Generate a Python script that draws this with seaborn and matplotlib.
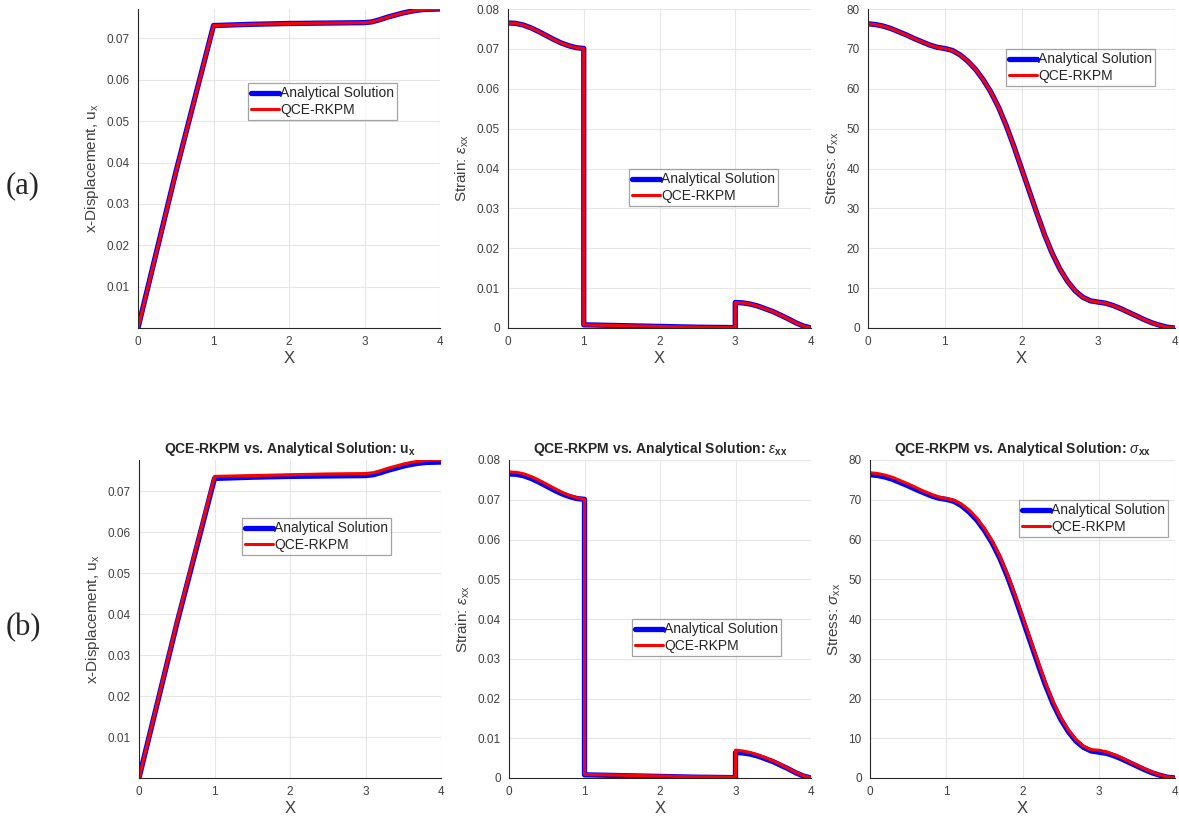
import matplotlib
matplotlib.use("Agg")
import matplotlib.pyplot as plt
import seaborn as sns

# ---- data ----
# displacement u_x
x_disp = [0.0, 0.5, 1.0, 1.5, 2.0, 2.5, 3.0, 3.1, 3.2, 3.3, 3.4, 3.5, 3.6, 3.7, 3.8, 3.9, 4.0]
ux_exact = [0.0, 0.0376, 0.0731, 0.0734, 0.0736, 0.0737, 0.0738, 0.0740, 0.0745, 0.0751,
            0.0756, 0.0761, 0.0765, 0.0768, 0.0770, 0.07705, 0.0771]
ux_qce_b = [0.0, 0.0379, 0.0736, 0.0738, 0.0740, 0.0742, 0.0743, 0.0745, 0.0750, 0.0756,
            0.0761, 0.0766, 0.0770, 0.0773, 0.0775, 0.0776, 0.0776]

# strain eps_xx (jumps at x=1 and x=3)
x_eps = [0.0, 0.1, 0.2, 0.3, 0.4, 0.5, 0.6, 0.7, 0.8, 0.9, 1.0,
         1.0, 1.5, 2.0, 2.5, 3.0,
         3.0, 3.1, 3.2, 3.3, 3.4, 3.5, 3.6, 3.7, 3.8, 3.9, 4.0]
eps_exact = [0.0765, 0.0764, 0.0760, 0.0753, 0.0744, 0.0734, 0.0724, 0.0715, 0.0708, 0.0703, 0.0701,
             0.0008, 0.0006, 0.0004, 0.0002, 0.0001,
             0.0064, 0.0063, 0.0060, 0.0055, 0.0048, 0.0041, 0.0032, 0.0023, 0.0013, 0.0005, 0.0]
eps_qce_b = [0.0770, 0.0769, 0.0765, 0.0758, 0.0749, 0.0739, 0.0729, 0.0719, 0.0711, 0.0705, 0.0701,
             0.0009, 0.0007, 0.0005, 0.0003, 0.0002,
             0.0070, 0.0068, 0.0064, 0.0058, 0.0051, 0.0043, 0.0034, 0.0024, 0.0014, 0.0006, 0.0]

# stress sigma_xx
x_sig = [0.0, 0.1, 0.2, 0.3, 0.4, 0.5, 0.6, 0.7, 0.8, 0.9, 1.0,
         1.1, 1.2, 1.3, 1.4, 1.5, 1.6, 1.7, 1.8, 1.9, 2.0,
         2.1, 2.2, 2.3, 2.4, 2.5, 2.6, 2.7, 2.8, 2.9, 3.0,
         3.1, 3.2, 3.3, 3.4, 3.5, 3.6, 3.7, 3.8, 3.9, 4.0]
sig_exact = [76.3, 76.1, 75.7, 75.1, 74.3, 73.5, 72.6, 71.8, 71.0, 70.4, 70.1,
             69.6, 68.5, 66.9, 64.9, 62.3, 59.2, 55.4, 50.8, 45.6, 40.0,
             34.4, 28.8, 23.4, 18.7, 14.8, 11.7, 9.3, 7.7, 6.8, 6.5,
             6.2, 5.6, 4.8, 3.9, 3.0, 2.1, 1.3, 0.7, 0.2, 0.0]
sig_qce_b = [76.8, 76.6, 76.2, 75.6, 74.8, 74.0, 73.1, 72.2, 71.4, 70.7, 70.3,
             69.9, 68.9, 67.4, 65.4, 62.8, 59.7, 55.9, 51.3, 46.1, 40.6,
             35.0, 29.4, 24.0, 19.2, 15.2, 12.1, 9.7, 8.0, 7.1, 7.0,
             6.6, 5.9, 5.1, 4.1, 3.2, 2.3, 1.5, 0.8, 0.3, 0.0]

sns.set_theme(style="white")
plt.rcParams["font.family"] = ["Liberation Sans", "DejaVu Sans"]
plt.rcParams["mathtext.fontset"] = "custom"
plt.rcParams["mathtext.rm"] = "Liberation Sans"
plt.rcParams["mathtext.it"] = "Liberation Sans:italic"
plt.rcParams["mathtext.bf"] = "Liberation Sans:bold"

fig = plt.figure(figsize=(11.79, 8.23), dpi=100)
W, H = 1179.0, 823.0

# axes boxes in pixels: left, top, right, bottom
boxes = [
    [(138, 9, 440, 328), (508, 9, 811, 328), (868, 9, 1175, 328)],
    [(139, 460, 441, 778), (509, 460, 811, 778), (870, 460, 1175, 778)],
]
legend_pos = [
    [(248, 83), (629, 169), (1006, 49)],
    [(242, 518), (632, 619), (1019, 500)],
]
ylabels = ["x-Displacement, u$_{\\rm x}$", "Strain: $\\epsilon_{\\rm xx}$", "Stress: $\\sigma_{\\rm xx}$"]
titles = [None, None, None,
          "QCE-RKPM vs. Analytical Solution: u$_{\\mathbf{x}}$",
          "QCE-RKPM vs. Analytical Solution: $\\epsilon_{\\mathbf{xx}}$",
          "QCE-RKPM vs. Analytical Solution: $\\sigma_{\\mathbf{xx}}$"]

series = [
    [(x_disp, ux_exact, ux_exact), (x_eps, eps_exact, eps_exact), (x_sig, sig_exact, sig_exact)],
    [(x_disp, ux_exact, ux_qce_b), (x_eps, eps_exact, eps_qce_b), (x_sig, sig_exact, sig_qce_b)],
]
yticks = [[0.01, 0.02, 0.03, 0.04, 0.05, 0.06, 0.07],
          [0, 0.01, 0.02, 0.03, 0.04, 0.05, 0.06, 0.07, 0.08],
          [0, 10, 20, 30, 40, 50, 60, 70, 80]]
ytops = [None, 0.08, 80]

axis_col = "#262626"
for r in range(2):
    for c in range(3):
        l, t, rr, b = boxes[r][c]
        ax = fig.add_axes([l / W, 1 - b / H, (rr - l) / W, (b - t) / H])
        xs, y_an, y_qce = series[r][c]
        sns.lineplot(x=xs, y=y_an, ax=ax, color="#0000ff", lw=3.8, estimator=None,
                     sort=False, label="Analytical Solution")
        sns.lineplot(x=xs, y=y_qce, ax=ax, color="#ff0000", lw=2.2, estimator=None,
                     sort=False, label="QCE-RKPM")
        ax.set_xlim(0, 4)
        top = ytops[c] if ytops[c] is not None else max(max(y_an), max(y_qce))
        ax.set_ylim(0, top)
        ax.set_xticks([0, 1, 2, 3, 4])
        ax.set_yticks(yticks[c])
        ax.set_yticklabels([f"{v:g}" for v in yticks[c]])
        ax.grid(True, color="#e6e6e6", lw=0.8)
        ax.set_axisbelow(True)
        for s in ["top", "right"]:
            ax.spines[s].set_visible(False)
        for s in ["left", "bottom"]:
            ax.spines[s].set_color(axis_col)
            ax.spines[s].set_linewidth(0.8)
        ax.tick_params(direction="in", length=3, width=0.6, colors=axis_col,
                       labelsize=8.5, labelcolor="#404040", pad=6)
        ax.set_xlabel("X", fontsize=12, color="#404040", labelpad=2)
        ax.set_ylabel(ylabels[c], fontsize=11, color="#404040", labelpad=4)
        if titles[r * 3 + c]:
            ax.set_title(titles[r * 3 + c], fontsize=10, fontweight="bold", pad=5)
        lx, ly = legend_pos[r][c]
        leg = ax.legend(loc="upper left", bbox_to_anchor=(lx / W, 1 - ly / H),
                        bbox_transform=fig.transFigure, fontsize=10, frameon=True,
                        fancybox=False, borderpad=0.25, labelspacing=0.15,
                        handlelength=2.0, handletextpad=0.05, borderaxespad=0)
        leg.get_frame().set_edgecolor("#8c8c8c")
        leg.get_frame().set_linewidth(0.9)

fig.text(6 / W, 1 - 186 / H, "(a)", family="Liberation Serif", fontsize=22, va="center")
fig.text(6 / W, 1 - 628 / H, "(b)", family="Liberation Serif", fontsize=22, va="center")

fig.savefig("out.png", dpi=100, facecolor="white")
